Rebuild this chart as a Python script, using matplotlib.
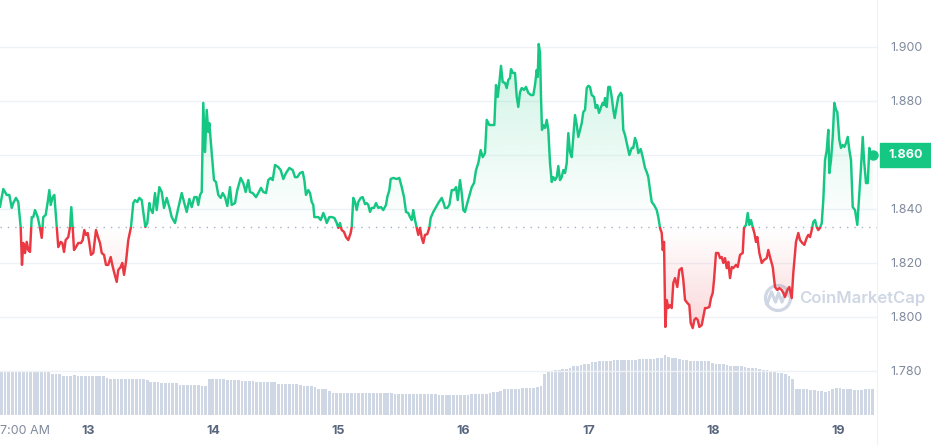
import numpy as np
import matplotlib.pyplot as plt
from matplotlib.patches import Rectangle, PathPatch, Circle

plt.rcParams['font.family'] = ['Inter', 'DejaVu Sans']

# hours since 12 Jan 07:00, price in USD
hours = [0.0, 0.63, 1.29, 1.79, 2.25, 2.55, 3.07, 3.51, 3.97, 4.22, 4.47, 4.8, 5.13, 5.43, 5.76, 6.09, 6.39, 6.72,
         7.24, 7.68, 8.01, 8.31, 8.77, 9.16, 9.47, 9.73, 10.12, 10.43, 10.89, 11.19, 11.65, 11.96, 12.29, 12.61,
         13.11, 13.44, 13.69, 13.96, 14.21, 14.59, 15.03, 15.55, 15.88, 16.19, 16.51, 16.84, 17.15, 17.47, 17.91,
         18.43, 18.87, 19.2, 19.53, 19.97, 20.35, 20.79, 21.25, 21.56, 21.89, 22.41, 22.71, 23.17, 23.48, 23.81,
         24.19, 24.63, 25.15, 25.59, 25.92, 26.36, 26.75, 27.21, 27.51, 27.9, 28.28, 28.67,
         28.8, 29.32, 29.76, 30.09, 30.59, 31.05, 31.49, 32.01, 32.51, 32.97, 33.6, 34.23, 34.89, 35.33, 35.85,
         36.35, 36.81, 37.31, 37.77, 38.07, 38.4, 38.73, 39.03, 39.36, 39.69, 39.99, 40.19, 40.65, 41.09, 41.47,
         41.91, 42.37, 42.76, 43.2, 43.64, 44.16, 44.49, 45.12, 45.56, 46.21, 46.71, 47.17, 47.67, 48.0, 48.52,
         49.15, 49.59, 50.11, 50.55, 51.07, 51.51, 51.97, 52.36, 52.8, 53.43, 53.89, 54.39, 54.91, 55.55, 56.2,
         56.64, 57.08, 57.6, 58.12, 58.43, 58.75, 59.19,
         59.52, 59.85, 60.15, 60.35, 61.11, 61.57, 62.07, 62.4, 62.73, 63.23, 63.69, 64.19, 64.65, 64.95, 65.28,
         65.61, 66.05, 66.43, 66.87, 67.33, 67.53, 67.83, 68.16, 68.49, 68.79, 69.25, 69.64, 70.08, 70.41, 70.71,
         71.04, 71.37, 71.81, 72.19, 72.63, 73.15, 73.59, 74.11, 74.36, 74.75, 75.01, 75.51, 76.17, 76.67, 77.13,
         77.57, 77.95, 78.39, 78.72, 79.05, 79.35, 79.68, 80.01, 80.31, 80.64, 80.97, 81.27, 81.6, 82.04, 82.43,
         82.69, 83.19, 83.71, 84.15, 84.81, 85.11, 85.44, 85.88, 86.27,
         86.73, 87.17, 87.55, 87.88, 88.32, 88.65, 88.95, 89.28, 89.72, 90.24, 90.57, 91.01, 91.39, 91.83, 92.29,
         92.68, 93.12, 93.45, 93.95, 94.41, 94.91, 95.23, 95.56, 95.87, 96.19, 96.52, 96.96, 97.29, 97.59, 97.92,
         98.11, 98.44, 98.88, 99.21, 99.51, 99.84, 100.17, 100.61, 100.99, 101.43, 101.95, 102.39, 102.72, 103.05,
         103.24, 103.43, 103.68, 103.87, 104.06, 104.31, 104.64, 104.97, 105.27, 105.6, 105.93, 106.23, 106.56,
         106.89, 107.19, 107.52, 107.85, 108.15, 108.48, 108.81, 109.11, 109.44, 109.77, 110.07, 110.4, 110.73,
         111.03, 111.36, 111.69, 111.99, 112.32, 112.65, 112.95, 113.28, 113.61, 114.05, 114.37, 114.68, 115.01,
         115.33, 115.72, 115.97, 116.16, 116.49, 116.79, 117.12, 117.45, 117.75, 118.02, 118.27, 118.71, 119.17,
         119.37, 119.67, 120.0, 120.33, 120.83, 121.29, 121.59, 121.92, 122.25, 122.55, 123.01, 123.4, 123.84,
         124.17, 124.47, 124.8, 125.13, 125.57, 126.09, 126.39, 126.72, 127.05, 127.24, 127.49, 127.74, 128.01,
         128.31, 128.64, 128.97, 129.27, 129.6, 130.04, 130.43, 130.89, 131.19, 131.52, 131.96, 132.35, 132.61,
         133.0, 133.31, 133.63, 133.96, 134.27, 134.73, 135.03, 135.36, 135.69, 136.19, 136.51, 136.84, 137.09,
         137.47, 137.91, 138.24, 138.57, 138.87, 139.2, 139.53, 139.83, 140.16, 140.49, 140.79, 141.31, 141.64,
         142.08, 142.6, 142.85, 143.23, 143.56, 143.87, 144.19, 144.52, 144.83, 145.15, 145.4, 145.79,
         146.25, 146.69, 147.21, 147.51, 147.84, 148.36, 148.8, 149.24, 149.63, 150.09, 150.39, 150.72, 151.16,
         151.55, 152.01, 152.31, 152.83, 153.27, 153.6, 154.04, 154.43, 154.89, 155.19, 155.52, 155.85, 156.15,
         156.48, 156.81, 157.11, 157.44, 157.77, 158.07, 158.4, 158.73, 159.03, 159.23, 159.55, 159.88, 160.19,
         160.51, 160.76, 161.15, 161.47, 161.8, 162.11, 162.43, 162.76, 163.07, 163.39, 163.72, 164.16, 164.6,
         164.99, 165.31, 165.64, 165.89, 166.27, 166.6, 166.91, 167.23, 167.56]

price = [1.8408, 1.8473, 1.8451, 1.8451, 1.8403, 1.8421, 1.8440, 1.8425, 1.8332, 1.8192, 1.8273, 1.8236, 1.8277,
         1.8247, 1.8240, 1.8369, 1.8369, 1.8395, 1.8369, 1.8329, 1.8292, 1.8369, 1.8377, 1.8425, 1.8469, 1.8414,
         1.8443, 1.8451, 1.8332, 1.8258, 1.8277, 1.8273, 1.8240, 1.8284, 1.8295, 1.8332, 1.8406, 1.8329, 1.8247,
         1.8258, 1.8273, 1.8273, 1.8284, 1.8321, 1.8303, 1.8310, 1.8273, 1.8229, 1.8236, 1.8321, 1.8292, 1.8273,
         1.8236, 1.8229, 1.8192, 1.8192, 1.8221, 1.8192, 1.8166, 1.8129, 1.8173, 1.8184, 1.8199, 1.8155, 1.8203,
         1.8284, 1.8332, 1.8421, 1.8432, 1.8425, 1.8440, 1.8432, 1.8388, 1.8332, 1.8347, 1.8421,
         1.8403, 1.8384, 1.8458, 1.8395, 1.8480, 1.8462, 1.8403, 1.8440, 1.8406, 1.8369, 1.8347, 1.8403, 1.8458,
         1.8425, 1.8388, 1.8436, 1.8406, 1.8443, 1.8443, 1.8414, 1.8451, 1.8462, 1.8792, 1.8610, 1.8766, 1.8684,
         1.8717, 1.8606, 1.8506, 1.8499, 1.8451, 1.8440, 1.8458, 1.8443, 1.8410, 1.8480, 1.8414, 1.8421, 1.8469,
         1.8514, 1.8495, 1.8462, 1.8506, 1.8462, 1.8458, 1.8443, 1.8458, 1.8477, 1.8462, 1.8458, 1.8506, 1.8514,
         1.8506, 1.8562, 1.8554, 1.8543, 1.8510, 1.8532, 1.8551, 1.8543, 1.8517, 1.8517, 1.8532, 1.8536, 1.8506,
         1.8451, 1.8469,
         1.8458, 1.8425, 1.8414, 1.8369, 1.8369, 1.8358, 1.8384, 1.8369, 1.8347, 1.8369, 1.8369, 1.8366, 1.8347,
         1.8329, 1.8347, 1.8321, 1.8314, 1.8295, 1.8284, 1.8310, 1.8332, 1.8440, 1.8425, 1.8395, 1.8425, 1.8440,
         1.8443, 1.8417, 1.8421, 1.8414, 1.8388, 1.8403, 1.8403, 1.8421, 1.8403, 1.8406, 1.8395, 1.8414, 1.8443,
         1.8469, 1.8510, 1.8514, 1.8510, 1.8514, 1.8480, 1.8443, 1.8388, 1.8384, 1.8369, 1.8358, 1.8395, 1.8358,
         1.8329, 1.8303, 1.8329, 1.8292, 1.8273, 1.8303, 1.8306, 1.8329, 1.8366, 1.8388, 1.8406, 1.8421, 1.8440,
         1.8425, 1.8403, 1.8403, 1.8414,
         1.8469, 1.8469, 1.8480, 1.8432, 1.8506, 1.8458, 1.8395, 1.8388, 1.8421, 1.8458, 1.8480, 1.8495, 1.8543,
         1.8569, 1.8617, 1.8591, 1.8606, 1.8729, 1.8710, 1.8710, 1.8710, 1.8858, 1.8814, 1.8866, 1.8929, 1.8869,
         1.8866, 1.8847, 1.8877, 1.8884, 1.8917, 1.8903, 1.8903, 1.8814, 1.8777, 1.8832, 1.8847, 1.8840, 1.8851,
         1.8829, 1.8821, 1.8821, 1.8858, 1.8914, 1.8888, 1.9010, 1.8977, 1.8814, 1.8692, 1.8710, 1.8699, 1.8729,
         1.8692, 1.8569, 1.8499, 1.8517, 1.8506, 1.8517, 1.8558, 1.8506, 1.8517, 1.8543, 1.8532, 1.8569, 1.8680,
         1.8610, 1.8591, 1.8666, 1.8747, 1.8710, 1.8666, 1.8692, 1.8717, 1.8758, 1.8766, 1.8847, 1.8855, 1.8851,
         1.8821, 1.8814, 1.8773, 1.8784, 1.8755,
         1.8773, 1.8792, 1.8784, 1.8810, 1.8777, 1.8851, 1.8851, 1.8814, 1.8766, 1.8736, 1.8766, 1.8814, 1.8829,
         1.8821, 1.8692, 1.8673, 1.8643, 1.8599, 1.8625, 1.8625, 1.8662, 1.8643, 1.8606, 1.8621, 1.8591, 1.8551,
         1.8536, 1.8517, 1.8469, 1.8425, 1.8414, 1.8395, 1.8369, 1.8329, 1.8310, 1.8247, 1.8277, 1.7962, 1.8062,
         1.8032, 1.8043, 1.8032, 1.8125, 1.8143, 1.8110, 1.8173, 1.8180, 1.8136, 1.8062, 1.8051, 1.8043, 1.7977,
         1.7958, 1.7988, 1.7995, 1.7988, 1.7962, 1.7969, 1.7999, 1.8032, 1.8032, 1.8036, 1.8069, 1.8088, 1.8136,
         1.8236, 1.8236, 1.8217, 1.8221, 1.8199, 1.8217, 1.8180, 1.8203, 1.8143, 1.8184, 1.8180, 1.8192, 1.8184,
         1.8229, 1.8236, 1.8329, 1.8340, 1.8384, 1.8340, 1.8358, 1.8332, 1.8310, 1.8277, 1.8295, 1.8236,
         1.8199, 1.8210, 1.8217, 1.8247, 1.8221, 1.8184, 1.8110, 1.8099, 1.8106, 1.8099, 1.8088, 1.8073, 1.8099,
         1.8110, 1.8069, 1.8162, 1.8277, 1.8310, 1.8284, 1.8273, 1.8266, 1.8292, 1.8303, 1.8295, 1.8321, 1.8351,
         1.8358, 1.8332, 1.8321, 1.8329, 1.8347, 1.8432, 1.8580, 1.8617, 1.8692, 1.8532, 1.8580, 1.8666, 1.8792,
         1.8766, 1.8758, 1.8655, 1.8625, 1.8636, 1.8629, 1.8643, 1.8666, 1.8617, 1.8580, 1.8406, 1.8395, 1.8340,
         1.8458, 1.8554, 1.8666, 1.8580, 1.8495, 1.8495, 1.8625, 1.8599, 1.8599]

base_price = 1.8331

# 24h volume (millions), one bar every 0.7 h
vol_step = 0.7
volume = [427, 427, 427, 427, 427, 427, 443, 443, 443, 443, 443, 443, 443, 440, 415, 407, 407, 393, 393, 393,
          397, 393, 393, 393, 393, 393, 393, 393, 390, 375, 365, 360, 360, 360, 360, 360, 360, 360, 360, 360,
          355, 333, 333, 333, 317, 317, 317, 317, 317, 300, 300, 300, 300, 300, 300, 290, 290, 357, 357, 357,
          357, 357, 350, 350, 350, 350, 340, 340, 340, 340, 327, 327, 327, 327, 327, 327, 310, 310, 310, 310,
          310, 310, 300, 290, 290, 290, 285, 265, 260, 260, 240, 225, 222, 218, 218, 218, 218, 218, 218, 218,
          218, 218, 218, 218, 218, 218, 218, 218, 208, 208, 208, 208, 208, 208, 208, 208, 208, 208, 208, 208,
          205, 205, 205, 205, 205, 205, 205, 205, 205, 215, 215, 215, 215, 215, 220, 235, 235, 240, 258, 260,
          260, 260, 262, 268, 268, 270, 270, 285, 290, 415, 440, 445, 447, 450, 462, 465, 468, 490, 495, 497,
          512, 515, 530, 535, 537, 537, 540, 545, 550, 553, 553, 553, 555, 553, 553, 557, 560, 563, 565, 565,
          570, 575, 605, 585, 575, 572, 565, 555, 550, 545, 540, 538, 537, 537, 537, 525, 515, 515, 515, 505,
          495, 495, 495, 493, 485, 472, 470, 468, 465, 455, 447, 445, 440, 425, 420, 415, 395, 365, 265, 258,
          258, 258, 255, 250, 240, 237, 230, 240, 260, 270, 272, 265, 263, 258, 255, 255, 255, 258, 262, 257]

tick_hours = [0, 17, 41, 65, 89, 113, 137, 161]
tick_labels = ['7:00 AM', '13', '14', '15', '16', '17', '18', '19']
price_ticks = [1.78, 1.80, 1.82, 1.84, 1.86, 1.88, 1.90]

GREEN = '#16C784'
RED = '#EA3943'
W, H = 931, 445
x_max = 168.38

fig = plt.figure(figsize=(W / 100, H / 100), dpi=100)

# watermark layer (pixel coordinates)
ov = fig.add_axes([0, 0, 1, 1])
ov.set_xlim(0, W)
ov.set_ylim(H, 0)
ov.axis('off')
ov.add_patch(Circle((778, 298), 12.5, fill=False, lw=2.3, ec='#CFD6E4'))
ov.plot([767, 771.5, 775.5, 778.5, 782, 785.5, 791], [304, 292, 302, 293, 302, 292, 298],
        color='#CFD6E4', lw=2.3, solid_joinstyle='round')
ov.text(799, 298, 'CoinMarketCap', color='#CFD6E4', fontsize=12, fontweight='semibold',
        ha='left', va='center')

# volume bars
axv = fig.add_axes([0, 30 / H, 877 / W, 70 / H])
vol_t = np.arange(len(volume)) * vol_step
axv.bar(vol_t, volume, width=0.52, align='edge', color='#CFD6E4', lw=0)
axv.set_xlim(0, x_max)
axv.set_ylim(0, 700)
axv.axis('off')

# price chart
ax = fig.add_axes([0, 0, 877 / W, 1])
ax.set_facecolor('none')
t = np.array(hours)
p = np.array(price)


def gradient_fill(y_top, y_bot, a_top, a_bot, color, curve):
    poly = ax.fill_between(t, curve, base_price, color='none', lw=0)
    clip = PathPatch(poly.get_paths()[0], transform=ax.transData, fc='none', ec='none')
    ax.add_patch(clip)
    rgb = plt.matplotlib.colors.to_rgb(color)
    grad = np.zeros((100, 1, 4))
    grad[:, 0, :3] = rgb
    grad[:, 0, 3] = np.linspace(a_bot, a_top, 100)
    im = ax.imshow(grad, extent=[0, x_max, y_bot, y_top], origin='lower', aspect='auto', zorder=1)
    im.set_clip_path(clip)


gradient_fill(p.max(), base_price, 0.22, 0.0, GREEN, np.maximum(p, base_price))
gradient_fill(base_price, p.min(), 0.0, 0.2, RED, np.minimum(p, base_price))

ax.axhline(base_price, color='#A6B0C3', lw=1, linestyle=(0, (1, 4.3)), zorder=2)

up, = ax.plot(t, p, color=GREEN, lw=1.75, solid_joinstyle='round', zorder=3)
up.set_clip_path(Rectangle((0, base_price), x_max, 1, transform=ax.transData))
down, = ax.plot(t, p, color=RED, lw=1.75, solid_joinstyle='round', zorder=3)
down.set_clip_path(Rectangle((0, base_price - 1), x_max, 1, transform=ax.transData))
ax.plot(t[-1], p[-1], 'o', color=GREEN, ms=6.5, zorder=4, clip_on=False)

ax.set_xlim(0, x_max)
ax.set_ylim(1.9173 - H / 2700, 1.9173)

ax.set_yticks(price_ticks, [f'{v:.3f}' for v in price_ticks])
ax.yaxis.tick_right()
ax.tick_params(axis='y', length=0, pad=9.5, labelsize=9, labelcolor='#808A9D')
ax.grid(axis='y', color='#EFF2F5', lw=1)
ax.set_axisbelow(True)

ax.set_xticks(tick_hours, tick_labels)
ax.tick_params(axis='x', length=0, pad=-14.5, labelsize=9, labelcolor='#58667E')
for i, lab in enumerate(ax.get_xticklabels()):
    if i == 0:
        lab.set_ha('left')
        lab.set_color('#808A9D')
    else:
        lab.set_fontweight('bold')

for s in ['top', 'left', 'bottom']:
    ax.spines[s].set_visible(False)
ax.spines['right'].set_color('#EFF2F5')

# current price tag
tag_h = 12 / 2700
ax.add_patch(Rectangle((880 / 877, p[-1] - tag_h), 51 / 877, 2 * tag_h, color=GREEN,
                       transform=ax.get_yaxis_transform(), clip_on=False, zorder=5))
ax.text(906 / 877, p[-1], f'{p[-1]:.3f}', color='white', fontsize=9, fontweight='bold',
        ha='center', va='center', transform=ax.get_yaxis_transform(), zorder=6)

fig.savefig('out.png', dpi=100)
